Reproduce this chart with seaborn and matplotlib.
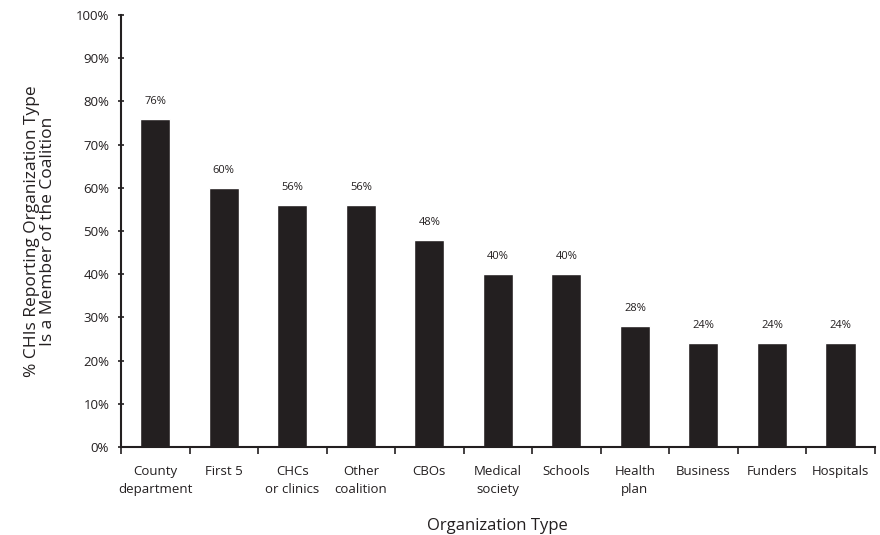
import matplotlib
matplotlib.use("Agg")
import matplotlib.pyplot as plt
import seaborn as sns
import pandas as pd
from matplotlib.ticker import FixedLocator, PercentFormatter

# Datos
tipos = ['County\ndepartment', 'First 5', 'CHCs\nor clinics', 'Other\ncoalition', 'CBOs',
         'Medical\nsociety', 'Schools', 'Health\nplan', 'Business', 'Funders', 'Hospitals']
porcentajes = [76, 60, 56, 56, 48, 40, 40, 28, 24, 24, 24]

sns.set_theme(style="white")
plt.rcParams['font.family'] = ['Open Sans', 'DejaVu Sans']

df = pd.DataFrame({'Tipo': tipos, 'Pct': porcentajes})

fig = plt.figure(figsize=(8.8, 5.35), dpi=100)
ax = fig.add_axes([0.1375, 0.1645, 0.8565, 0.8075])

sns.barplot(data=df, x='Tipo', y='Pct', color='#231f20', width=0.44,
            saturation=1, ax=ax)

for i, v in enumerate(porcentajes):
    ax.text(i, v + 2.8, f'{v}%', ha='center', va='bottom', fontsize=8,
            color='#231f20')

ax.set_ylim(0, 100)
ax.set_xlim(-0.5, len(tipos) - 0.5)
ax.set_yticks(range(0, 101, 10))
ax.yaxis.set_major_formatter(PercentFormatter(decimals=0))

# ticks del eje x entre categorias
ax.xaxis.set_minor_locator(FixedLocator([i + 0.5 for i in range(-1, len(tipos))]))
ax.tick_params(axis='x', which='major', length=0, pad=13, labelsize=9.5,
               colors='#231f20')
for etiqueta in ax.get_xticklabels():
    etiqueta.set_linespacing(1.45)
ax.tick_params(axis='x', which='minor', bottom=True, length=5, width=1.2,
               direction='out', color='#231f20')
ax.tick_params(axis='y', left=True, length=5, width=1.2, direction='inout',
               labelsize=9.5, colors='#231f20', pad=6)

for lado in ['top', 'right']:
    ax.spines[lado].set_visible(False)
for lado in ['left', 'bottom']:
    ax.spines[lado].set_color('#231f20')
    ax.spines[lado].set_linewidth(1.5)

ax.set_xlabel('Organization Type', fontsize=12, color='#231f20', labelpad=16)
ax.set_ylabel('% CHIs Reporting Organization Type\nIs a Member of the Coalition',
              fontsize=12.5, color='#231f20', labelpad=14, linespacing=1.05)

plt.savefig('out.png', dpi=100)
